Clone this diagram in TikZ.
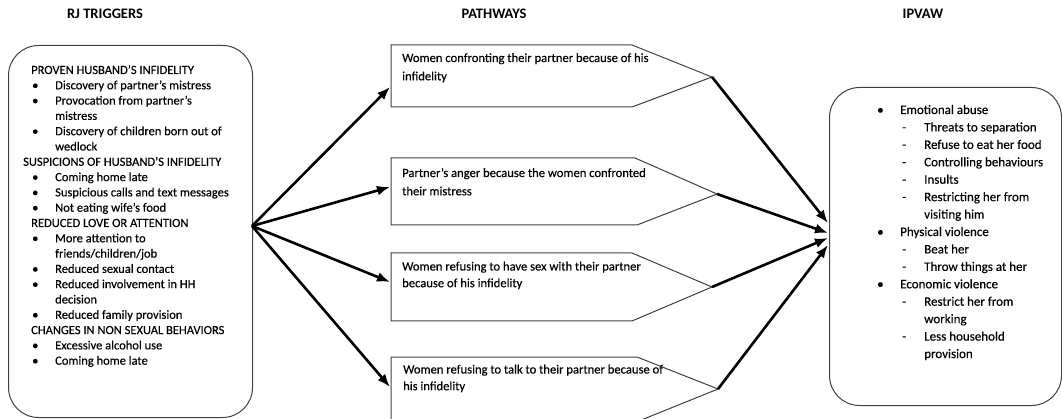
\documentclass[tikz,border=0pt]{standalone}
\usepackage{fontspec}
\setmainfont{Carlito}[UprightFeatures={FakeBold=0.35}]
\usetikzlibrary{arrows.meta}
\newcommand\bul[1]{\makebox[23pt][l]{\textbullet}#1}
\newcommand\dsh[1]{\makebox[22pt][l]{-}#1}
\begin{document}
\begin{tikzpicture}[x=1pt,y=-1pt,
  panel/.style={draw=black!75, line width=1pt, rounded corners=30pt, inner sep=0, anchor=north west},
  pathbox/.style={draw=black!75, line width=1pt},
  flow/.style={line width=2.6pt, -{Latex[length=13pt,width=10pt]}},
  title/.style={font=\fontsize{14.5}{17}\selectfont\bfseries, anchor=base, inner sep=0},
  txt/.style={anchor=base west, inner sep=0}]
\useasboundingbox (0,0) rectangle (1062,419);

% titles
\node[title] (t1) at (105,18.7) {RJ TRIGGERS};
\node[title] (t2) at (494,18.7) {PATHWAYS};
\node[title] (t3) at (923,18.7) {IPVAW};

% left panel
\node[panel, minimum width=244pt, minimum height=372pt] (trig) at (8,45) {};
\node[txt] (trigtxt) at (23,74) {\begin{minipage}[t]{228pt}\fontsize{12.5}{15.3}\selectfont\raggedright
\hspace*{8pt}PROVEN HUSBAND’S INFIDELITY\\
\hspace*{9pt}\bul{Discovery of partner’s mistress}\\
\hspace*{9pt}\bul{Provocation from partner’s}\\
\hspace*{32pt}mistress\\
\hspace*{9pt}\bul{Discovery of children born out of}\\
\hspace*{32pt}wedlock\\
SUSPICIONS OF HUSBAND’S INFIDELITY\\
\hspace*{9pt}\bul{Coming home late}\\
\hspace*{9pt}\bul{Suspicious calls and text messages}\\
\hspace*{9pt}\bul{Not eating wife’s food}\\
\hspace*{8pt}REDUCED LOVE OR ATTENTION\\
\hspace*{9pt}\bul{More attention to}\\
\hspace*{32pt}friends/children/job\\
\hspace*{9pt}\bul{Reduced sexual contact}\\
\hspace*{9pt}\bul{Reduced involvement in HH}\\
\hspace*{32pt}decision\\
\hspace*{9pt}\bul{Reduced family provision}\\
\hspace*{8pt}CHANGES IN NON SEXUAL BEHAVIORS\\
\hspace*{9pt}\bul{Excessive alcohol use}\\
\hspace*{9pt}\bul{Coming home late}
\end{minipage}};

% right panel
\node[panel, minimum width=232pt, minimum height=318pt] (ipv) at (829,87) {};
\node[txt] (ipvtxt) at (877,114) {\begin{minipage}[t]{180pt}\fontsize{13}{17.43}\selectfont\raggedright
\bul{Emotional abuse}\\
\hspace*{25pt}\dsh{Threats to separation}\\
\hspace*{25pt}\dsh{Refuse to eat her food}\\
\hspace*{25pt}\dsh{Controlling behaviours}\\
\hspace*{25pt}\dsh{Insults}\\
\hspace*{25pt}\dsh{Restricting her from}\\
\hspace*{47pt}visiting him\\
\bul{Physical violence}\\
\hspace*{25pt}\dsh{Beat her}\\
\hspace*{25pt}\dsh{Throw things at her}\\
\bul{Economic violence}\\
\hspace*{25pt}\dsh{Restrict her from}\\
\hspace*{47pt}working\\
\hspace*{25pt}\dsh{Less household}\\
\hspace*{47pt}provision
\end{minipage}};

% pathway boxes
\draw[pathbox] (391,45) -- (632,45) -- (712,77) coordinate (p1tip) -- (632,107) -- (391,107) -- cycle;
\draw[pathbox] (391,158) -- (635,158) -- (717,194) coordinate (p2tip) -- (637,225) -- (391,225) -- cycle;
\draw[pathbox] (391,253) -- (632,253) -- (712,287) coordinate (p3tip) -- (632,321) -- (391,321) -- cycle;
\draw[pathbox] (391,357) -- (637,357) -- (718,389) coordinate (p4tip) -- (640,420.5) -- (391,420.5) -- cycle;

\node[txt] (p1) at (402,62) {\begin{minipage}[t]{300pt}\fontsize{12.6}{18.3}\selectfont
Women confronting their partner because of his\\infidelity\end{minipage}};
\node[txt] (p2) at (402,177) {\begin{minipage}[t]{300pt}\fontsize{12.6}{18.3}\selectfont
Partner’s anger because the women confronted\\their mistress\end{minipage}};
\node[txt] (p3) at (402,270.5) {\begin{minipage}[t]{300pt}\fontsize{12.6}{16.7}\selectfont
Women refusing to have sex with their partner\\because of his infidelity\end{minipage}};
\node[txt] (p4) at (403,373.5) {\begin{minipage}[t]{300pt}\fontsize{12.6}{16.7}\selectfont
Women refusing to talk to their partner because of\\his infidelity\end{minipage}};

% connector end points
\coordinate (src) at (252,226);
\coordinate (in1) at (390,87);
\coordinate (in2) at (390,187);
\coordinate (in3) at (390,282);
\coordinate (in4) at (390,387);
\coordinate (out1) at (828,223);
\coordinate (out2) at (828,233);
\coordinate (out3) at (828,238);
\coordinate (out4) at (828,245);

\draw[flow] (src) -- (in1);
\draw[flow] (src) -- (in2);
\draw[flow] (src) -- (in3);
\draw[flow] (src) -- (in4);
\draw[flow] (p1tip) -- (out1);
\draw[flow] (p2tip) -- (out2);
\draw[flow] (p3tip) -- (out3);
\draw[flow] (p4tip) -- (out4);
\end{tikzpicture}
\end{document}
